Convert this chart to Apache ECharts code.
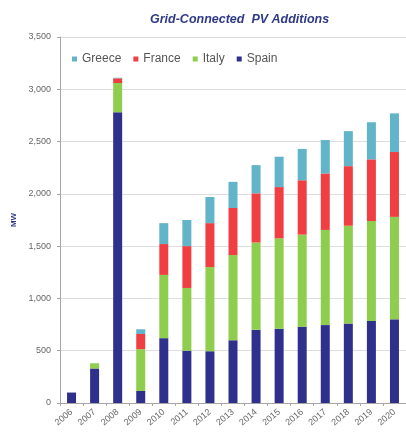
<!DOCTYPE html>
<html>
<head>
<meta charset="utf-8">
<script src="https://cdn.jsdelivr.net/npm/echarts@6/dist/echarts.min.js"></script>
<style>
html,body{margin:0;padding:0;background:#fff;}
#c{width:406px;height:436px;}
</style>
</head>
<body>
<div id="c"></div>
<script>
var years = ['2006','2007','2008','2009','2010','2011','2012','2013','2014','2015','2016','2017','2018','2019','2020'];
var spain  = [100, 330, 2780, 115, 620, 500, 495, 600, 700, 710, 730, 745, 760, 785, 800];
var italy  = [0, 50, 280, 400, 605, 600, 805, 815, 835, 865, 880, 910, 935, 955, 980];
var france = [0, 0, 45, 145, 295, 400, 420, 450, 470, 490, 520, 540, 570, 590, 620];
var greece = [0, 0, 5, 45, 200, 250, 250, 250, 270, 290, 300, 320, 335, 355, 370];
var legendNames = ['Greece', 'France', 'Italy', 'Spain'];

var colors = {Spain:'#2f2f8c', Italy:'#8fcd4f', France:'#ef3f42', Greece:'#62b4c8'};

var chart = echarts.init(document.getElementById('c'));
function ser(name, data){
  return {name:name, type:'bar', stack:'t', data:data, barWidth:9,
          itemStyle:{color:colors[name]}};
}
chart.setOption({
  animation:false,
  title:{text:'Grid-Connected  PV Additions', left:145, top:8,
         textStyle:{fontFamily:'Liberation Sans', fontSize:12.5, fontWeight:'bold', fontStyle:'italic', color:'#2e3a87'}},
  legend:{data:legendNames, left:67, top:48, icon:'rect', itemWidth:5, itemHeight:5, itemGap:12,
          textStyle:{fontFamily:'Liberation Sans', fontSize:12, color:'#555'}},
  grid:{left:60, right:-3, top:37, bottom:33, containLabel:false},
  xAxis:{type:'category', data:years,
         axisLine:{lineStyle:{color:'#a6a6a6'}},
         axisTick:{show:true, length:3, lineStyle:{color:'#a6a6a6'}},
         axisLabel:{rotate:40, fontSize:9, fontFamily:'Liberation Sans', color:'#666', margin:8}},
  yAxis:{type:'value', min:0, max:3500, interval:500,
         name:'MW', nameLocation:'middle', nameGap:40, nameRotate:90,
         nameTextStyle:{fontFamily:'Liberation Sans', fontSize:8, fontWeight:'bold', color:'#2e3a87'},
         axisLine:{show:true, lineStyle:{color:'#a6a6a6'}},
         axisTick:{show:true, length:3, lineStyle:{color:'#a6a6a6'}},
         splitLine:{lineStyle:{color:'#dedede'}},
         axisLabel:{fontSize:9, fontFamily:'Liberation Sans', color:'#666', margin:9,
                    formatter:function(v){return v.toLocaleString('en-US');}}},
  series:[ser('Spain', spain), ser('Italy', italy), ser('France', france), ser('Greece', greece)]
});
</script>
</body>
</html>
